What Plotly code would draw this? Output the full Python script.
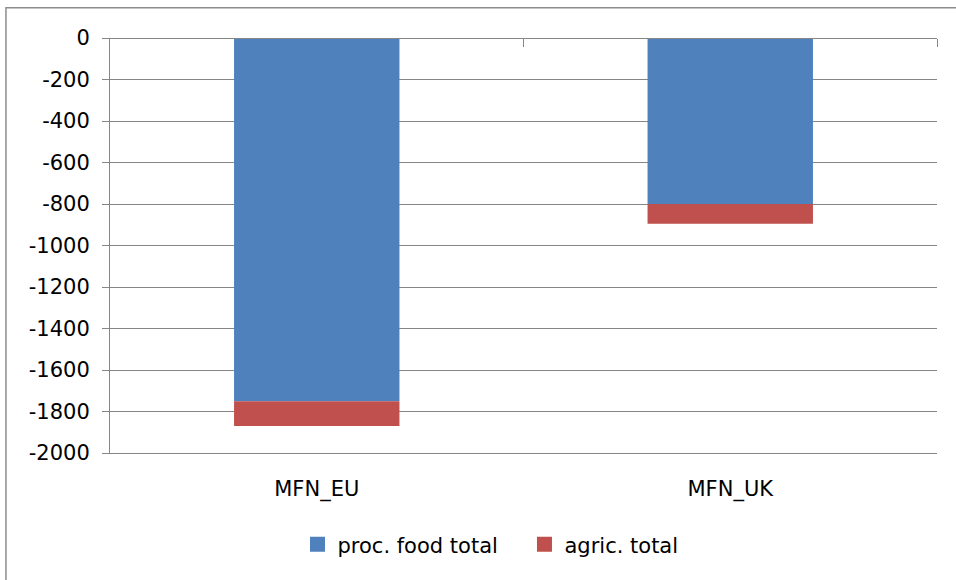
import plotly.graph_objects as go

# Tariff cost by scenario (stacked, negative values)
categories = ["MFN_EU", "MFN_UK"]
proc_food_total = [-1750, -800]
agric_total = [-120, -95]

y_tick_values = [0, -200, -400, -600, -800, -1000, -1200, -1400, -1600, -1800, -2000]
y_tick_labels = [str(v) for v in y_tick_values]

BLUE = "#4F81BD"
RED = "#C0504D"
GRID = "#868686"
FONT = dict(family="DejaVu Sans", size=21, color="#000000")

fig = go.Figure()

fig.add_trace(go.Bar(
    x=categories, y=proc_food_total, name="proc. food total",
    marker=dict(color=BLUE, line=dict(width=0)),
    showlegend=False,
))
fig.add_trace(go.Bar(
    x=categories, y=agric_total, name="agric. total",
    marker=dict(color=RED, line=dict(width=0)),
    showlegend=False,
))

# legend keys drawn as square markers
fig.add_trace(go.Scatter(
    x=[None], y=[None], mode="markers", name="proc. food total",
    marker=dict(symbol="square", size=15, color=BLUE),
))
fig.add_trace(go.Scatter(
    x=[None], y=[None], mode="markers", name="agric. total",
    marker=dict(symbol="square", size=15, color=RED),
))

# category axis line at value 0 (top), with boundary tick marks pointing down
fig.add_trace(go.Scatter(
    x=[], y=[], xaxis="x2", yaxis="y", showlegend=False, hoverinfo="skip",
))

fig.update_layout(
    width=956,
    height=580,
    margin=dict(l=110, r=19, t=38, b=127),
    paper_bgcolor="white",
    plot_bgcolor="white",
    barmode="relative",
    bargap=0.6,
    font=FONT,
    xaxis=dict(
        type="category",
        categoryorder="array",
        categoryarray=categories,
        range=[-0.5, 1.5],
        showgrid=False,
        zeroline=False,
        showline=True,
        linecolor=GRID,
        linewidth=1,
        ticks="",
        ticklabelstandoff=17,
        tickfont=FONT,
    ),
    xaxis2=dict(
        overlaying="x",
        anchor="free",
        position=1,
        side="bottom",
        type="linear",
        range=[-0.5, 1.5],
        tickvals=[0.5, 1.5],
        ticks="outside",
        ticklen=8,
        tickwidth=1,
        tickcolor=GRID,
        showticklabels=False,
        showgrid=False,
        zeroline=False,
        showline=True,
        linecolor=GRID,
        linewidth=1,
    ),
    yaxis=dict(
        range=[-2000, 0],
        tickvals=y_tick_values,
        ticktext=y_tick_labels,
        showgrid=True,
        gridcolor=GRID,
        gridwidth=1,
        zeroline=False,
        showline=True,
        linecolor=GRID,
        linewidth=1,
        ticks="outside",
        ticklen=7,
        tickwidth=1,
        tickcolor=GRID,
        ticklabelstandoff=8,
        tickfont=FONT,
    ),
    legend=dict(
        orientation="h",
        x=0.2267,
        xanchor="left",
        y=-0.221,
        yanchor="middle",
        font=FONT,
        bgcolor="rgba(0,0,0,0)",
        itemwidth=30,
        entrywidth=182,
        entrywidthmode="pixels",
    ),
    shapes=[
        dict(
            type="rect", xref="paper", yref="paper",
            x0=-0.1258, x1=1.03, y0=-0.32, y1=1.073,
            line=dict(color="#8C8C8C", width=1.5),
            fillcolor="rgba(0,0,0,0)",
            layer="below",
        )
    ],
)

fig.write_html("out.html")
